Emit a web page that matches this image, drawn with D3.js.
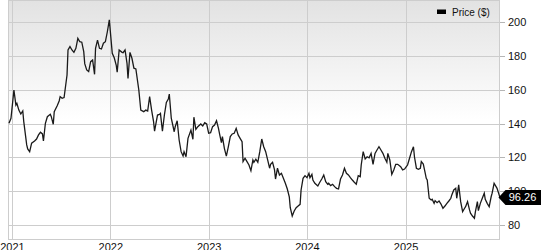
<!DOCTYPE html>
<html>
<head>
  <script src="https://d3js.org/d3.v7.min.js"></script>
  <style>
    body { margin: 0; background: #fff; }
    svg { font-family: "Liberation Sans", Arial, sans-serif; display: block; }
    .grid line { stroke: #cdcdcd; stroke-width: 1; shape-rendering: crispEdges; }
    .axis text { font-size: 11px; fill: #111; }
    .axis line { stroke: #b5b5b5; shape-rendering: crispEdges; }
    .line { fill: none; stroke: #1a1a1a; stroke-width: 1.3; }
  </style>
</head>
<body>
<div id="chart"></div>
<script>
// decimal years
var times = [
  2020.97, 2020.99, 2021.02, 2021.04, 2021.05, 2021.07, 2021.09, 2021.11, 2021.12, 2021.15,
  2021.16, 2021.18, 2021.20, 2021.23, 2021.25, 2021.27, 2021.29, 2021.31, 2021.32, 2021.34,
  2021.36, 2021.39, 2021.40, 2021.42, 2021.43, 2021.46, 2021.48, 2021.49, 2021.51, 2021.53,
  2021.56, 2021.57, 2021.59, 2021.61, 2021.63, 2021.65, 2021.67, 2021.69, 2021.71, 2021.73,
  2021.74, 2021.76, 2021.78, 2021.80, 2021.82, 2021.84, 2021.85, 2021.87, 2021.89, 2021.91,
  2021.93, 2021.95, 2021.97, 2021.99, 2022.02, 2022.04, 2022.06, 2022.07, 2022.09, 2022.12,
  2022.13, 2022.15, 2022.17, 2022.18, 2022.20, 2022.22, 2022.24, 2022.26, 2022.29, 2022.31,
  2022.34, 2022.36, 2022.38, 2022.40, 2022.42, 2022.44, 2022.45, 2022.48, 2022.50, 2022.51,
  2022.53, 2022.55, 2022.57, 2022.59, 2022.60, 2022.62, 2022.65, 2022.66, 2022.68, 2022.70,
  2022.72, 2022.74, 2022.75, 2022.77, 2022.79, 2022.82, 2022.84, 2022.85, 2022.87, 2022.89,
  2022.92, 2022.94, 2022.96, 2022.98, 2023.00, 2023.02, 2023.04, 2023.06, 2023.08, 2023.10,
  2023.11, 2023.13, 2023.14, 2023.16, 2023.18, 2023.20, 2023.22, 2023.24, 2023.26, 2023.28,
  2023.30, 2023.32, 2023.34, 2023.35, 2023.37, 2023.39, 2023.41, 2023.43, 2023.45, 2023.46,
  2023.48, 2023.50, 2023.52, 2023.54, 2023.56, 2023.58, 2023.60, 2023.62, 2023.63, 2023.65,
  2023.67, 2023.68, 2023.70, 2023.72, 2023.74, 2023.76, 2023.78, 2023.80, 2023.82, 2023.83,
  2023.85, 2023.87, 2023.89, 2023.91, 2023.93, 2023.94, 2023.96, 2023.98, 2024.00, 2024.02,
  2024.03, 2024.05, 2024.06, 2024.08, 2024.11, 2024.13, 2024.15, 2024.17, 2024.19, 2024.21,
  2024.22, 2024.24, 2024.26, 2024.28, 2024.30, 2024.32, 2024.34, 2024.36, 2024.38, 2024.40,
  2024.42, 2024.44, 2024.46, 2024.48, 2024.50, 2024.52, 2024.54, 2024.55, 2024.57, 2024.59,
  2024.61, 2024.63, 2024.65, 2024.67, 2024.69, 2024.71, 2024.73, 2024.75, 2024.77, 2024.79,
  2024.81, 2024.82, 2024.84, 2024.86, 2024.88, 2024.90, 2024.92, 2024.95, 2024.97, 2024.99,
  2025.00, 2025.02, 2025.04, 2025.06, 2025.08, 2025.09, 2025.11, 2025.13, 2025.15, 2025.16,
  2025.18, 2025.20, 2025.21, 2025.22, 2025.24, 2025.26, 2025.27, 2025.29, 2025.30, 2025.32,
  2025.34, 2025.36, 2025.38, 2025.40, 2025.42, 2025.44, 2025.46, 2025.47, 2025.49, 2025.51,
  2025.52, 2025.54, 2025.56, 2025.58, 2025.60, 2025.61, 2025.63, 2025.65, 2025.66, 2025.68,
  2025.70, 2025.71, 2025.73, 2025.74, 2025.76, 2025.78, 2025.80, 2025.81, 2025.83, 2025.85,
  2025.87, 2025.88, 2025.90, 2025.92, 2025.93, 2025.96
];

var prices = [
  140.2, 143.2, 159.9, 151.0, 152.0, 148.0, 145.7, 147.5, 141.2, 127.4,
  125.0, 123.4, 128.4, 129.7, 130.9, 133.3, 134.9, 133.9, 129.7, 140.2,
  144.1, 145.5, 144.1, 139.6, 147.1, 150.6, 153.4, 156.0, 155.0, 155.4,
  168.8, 183.6, 185.6, 183.6, 182.2, 184.6, 190.5, 188.5, 188.2, 182.6,
  175.5, 171.8, 170.8, 176.7, 177.7, 169.2, 184.6, 189.5, 184.6, 184.2,
  187.6, 188.5, 194.4, 201.4, 181.6, 179.0, 174.7, 170.4, 183.6, 182.2,
  182.0, 183.6, 175.7, 166.8, 182.2, 178.7, 172.8, 172.4, 159.9, 148.0,
  147.1, 148.0, 147.5, 156.0, 148.0, 141.2, 135.6, 145.1, 145.5, 146.1,
  135.6, 145.1, 152.6, 154.6, 157.5, 143.2, 135.2, 138.2, 141.7, 130.3,
  123.4, 120.8, 123.4, 120.4, 131.3, 136.2, 130.7, 143.8, 136.6, 138.2,
  139.8, 138.6, 140.6, 139.8, 134.3, 134.6, 138.2, 139.2, 141.7, 137.2,
  134.3, 128.7, 132.3, 125.4, 120.8, 126.3, 132.3, 133.9, 134.3, 137.2,
  133.3, 131.3, 129.3, 117.5, 119.5, 117.5, 115.5, 112.1, 118.5, 117.1,
  118.9, 117.1, 123.4, 130.9, 126.3, 123.4, 118.5, 113.6, 115.9, 117.1,
  112.6, 107.2, 113.6, 109.6, 110.6, 107.6, 104.7, 101.3, 96.7, 90.2,
  85.3, 88.3, 90.2, 91.2, 92.2, 100.7, 107.6, 109.2, 108.0, 110.6,
  108.0, 110.0, 106.6, 104.7, 103.1, 105.3, 107.2, 109.6, 105.6, 104.1,
  104.7, 103.3, 104.1, 102.7, 101.7, 101.3, 107.2, 109.6, 113.6, 110.6,
  109.6, 108.0, 106.6, 105.3, 104.1, 109.2, 108.6, 115.5, 123.4, 119.1,
  120.4, 119.8, 122.4, 115.9, 122.4, 124.4, 126.3, 124.4, 122.4, 119.5,
  117.1, 122.4, 118.5, 110.0, 112.6, 115.9, 115.9, 114.5, 112.6, 113.1,
  113.9, 115.5, 119.5, 123.4, 126.3, 120.4, 113.6, 113.0, 113.6, 117.5,
  116.1, 110.6, 107.6, 106.6, 95.8, 94.8, 95.2, 92.8, 94.4, 93.2,
  94.2, 92.4, 89.9, 91.2, 92.8, 94.2, 95.8, 97.8, 100.7, 101.7,
  95.8, 103.7, 93.8, 87.9, 89.9, 90.8, 93.8, 88.9, 87.0, 85.3,
  84.0, 87.9, 93.8, 88.5, 92.8, 95.8, 98.8, 95.2, 92.8, 90.8,
  96.7, 98.8, 104.7, 102.7, 101.7, 96.26
];

var yTicks = [80, 100, 120, 140, 160, 180, 200];
var xTickYears = [2021, 2022, 2023, 2024, 2025];
var seriesName = "Price ($)";
var lastLabel = "96.26";

var width = 541;
var height = 250;
var plot = {left: 8, right: 500, top: 0, bottom: 240};

function toDate(t) {
  var y = Math.floor(t);
  var a = Date.UTC(y, 0, 1), b = Date.UTC(y + 1, 0, 1);
  return new Date(a + (t - y) * (b - a));
}

var data = times.map(function(t, i) { return {date: toDate(t), value: prices[i]}; });

/* Scales */
var xScale = d3.scaleUtc()
  .domain(d3.extent(data, d => d.date))
  .range([plot.left + 1, plot.right]);

var yScale = d3.scaleLinear()
  .domain([71.1, 213.2])
  .range([plot.bottom, plot.top]);

var svg = d3.select("#chart").append("svg")
  .attr("width", width)
  .attr("height", height);

/* Background gradient */
var defs = svg.append("defs");
var grad = defs.append("linearGradient")
  .attr("id", "bg")
  .attr("x1", 0).attr("y1", 0).attr("x2", 0).attr("y2", 1);
grad.append("stop").attr("offset", "0%").attr("stop-color", "#e2e2e2");
grad.append("stop").attr("offset", "50%").attr("stop-color", "#ffffff");

defs.append("clipPath").attr("id", "clip")
  .append("rect")
  .attr("x", plot.left).attr("y", plot.top)
  .attr("width", plot.right - plot.left)
  .attr("height", plot.bottom - plot.top);

svg.append("rect")
  .attr("x", plot.left).attr("y", plot.top)
  .attr("width", plot.right - plot.left)
  .attr("height", plot.bottom - plot.top)
  .attr("fill", "url(#bg)");

/* Grid */
var grid = svg.append("g").attr("class", "grid");

grid.selectAll(".hgrid")
  .data(yTicks).enter()
  .append("line")
  .attr("x1", plot.left).attr("x2", plot.right)
  .attr("y1", d => Math.round(yScale(d)) + 0.5)
  .attr("y2", d => Math.round(yScale(d)) + 0.5);

grid.selectAll(".vgrid")
  .data(xTickYears).enter()
  .append("line")
  .attr("x1", d => Math.round(xScale(toDate(d))) + 0.5)
  .attr("x2", d => Math.round(xScale(toDate(d))) + 0.5)
  .attr("y1", plot.top).attr("y2", plot.bottom);

svg.append("rect")
  .attr("x", plot.left + 0.5).attr("y", plot.top + 0.5)
  .attr("width", plot.right - plot.left - 1)
  .attr("height", plot.bottom - plot.top - 1)
  .attr("fill", "none")
  .attr("stroke", "#cdcdcd")
  .attr("shape-rendering", "crispEdges");

/* Line */
var line = d3.line()
  .x(d => xScale(d.date))
  .y(d => yScale(d.value));

svg.append("path")
  .datum(data)
  .attr("class", "line")
  .attr("clip-path", "url(#clip)")
  .attr("d", line);

/* Axes */
var yAxis = d3.axisRight(yScale)
  .tickValues(yTicks)
  .tickSize(5)
  .tickPadding(3);

svg.append("g")
  .attr("class", "y axis")
  .attr("transform", `translate(${plot.right}, 0)`)
  .call(yAxis)
  .call(g => g.select(".domain").remove());

var xAxis = d3.axisBottom(xScale)
  .tickValues(xTickYears.map(toDate))
  .tickSize(0)
  .tickPadding(3)
  .tickFormat(d3.utcFormat("%Y"));

svg.append("g")
  .attr("class", "x axis")
  .attr("transform", `translate(0, ${plot.bottom})`)
  .call(xAxis)
  .call(g => g.select(".domain").remove());

/* Legend */
svg.append("rect")
  .attr("x", 437).attr("y", 9.5)
  .attr("width", 9).attr("height", 4.5)
  .attr("fill", "#000");

svg.append("text")
  .attr("x", 452).attr("y", 12)
  .attr("dy", "0.35em")
  .style("font-size", "10px")
  .attr("fill", "#111")
  .text(seriesName);

/* Last value tag */
var last = data[data.length - 1];
var cy = yScale(last.value);
var tagX = xScale(last.date) - 1.5;

svg.append("path")
  .attr("d", d3.line()([
    [tagX, cy], [tagX + 7, cy - 7.5], [width, cy - 7.5],
    [width, cy + 7.5], [tagX + 7, cy + 7.5]
  ]) + "Z")
  .attr("fill", "#000");

svg.append("text")
  .attr("x", tagX + 24)
  .attr("y", cy)
  .attr("dy", "0.35em")
  .attr("text-anchor", "middle")
  .style("font-size", "11px")
  .attr("fill", "#fff")
  .text(lastLabel);
</script>
</body>
</html>
